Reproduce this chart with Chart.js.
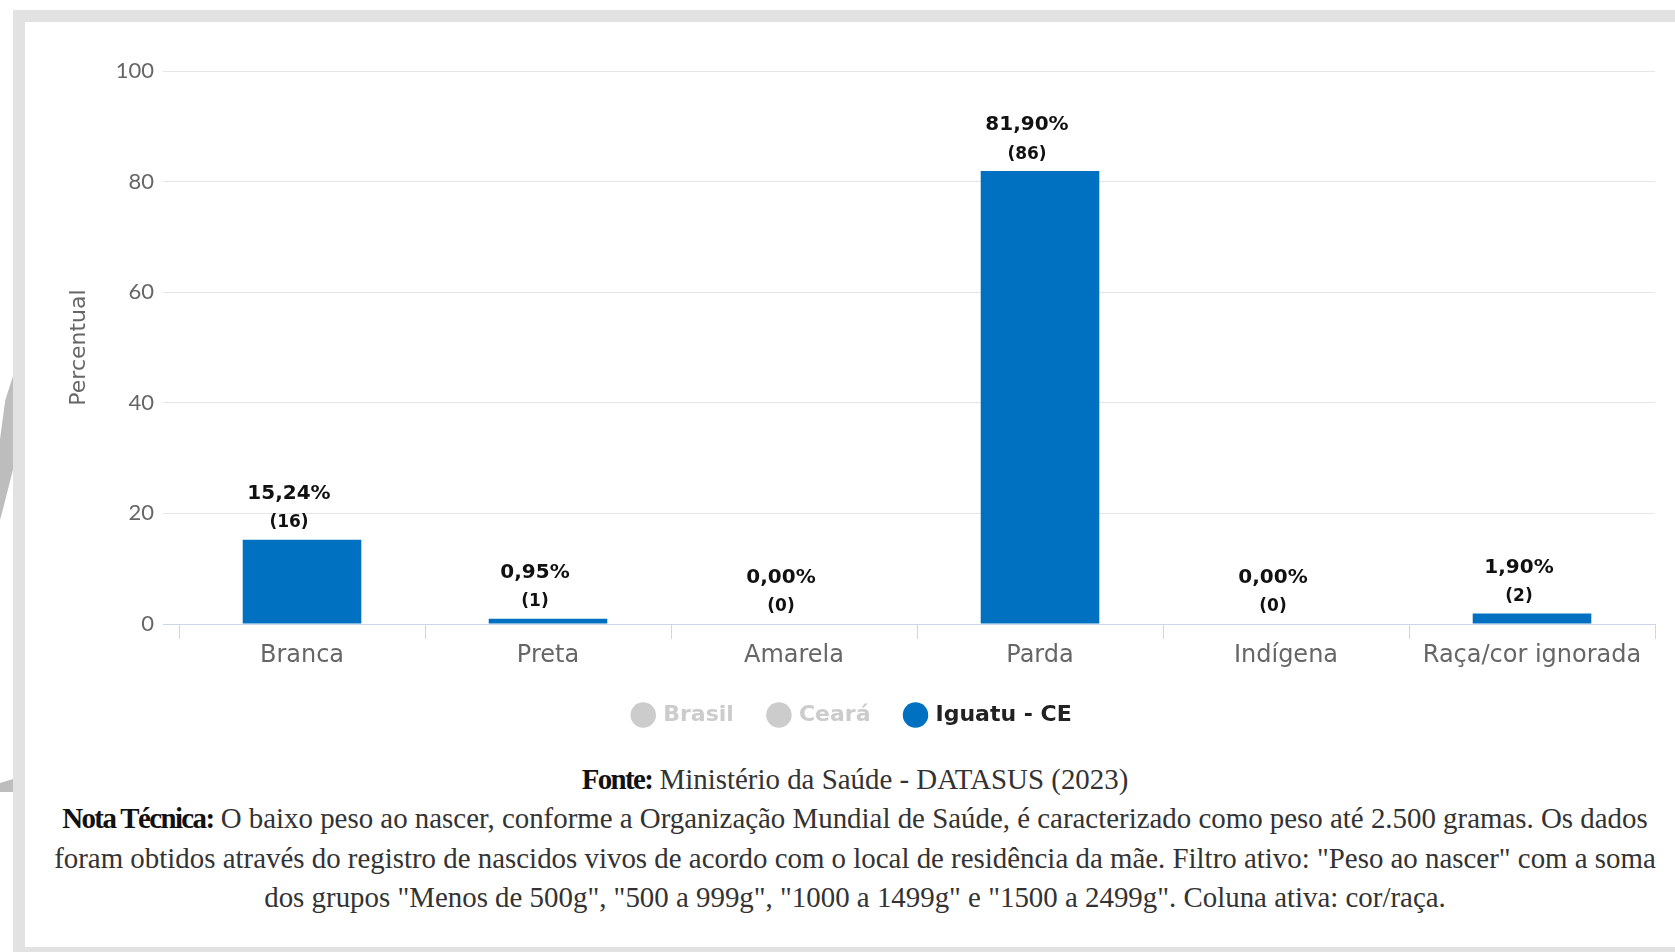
<!DOCTYPE html>
<html>
<head>
<meta charset="utf-8">
<script src="https://cdn.jsdelivr.net/npm/chart.js@4.4.1/dist/chart.umd.min.js"></script>
<style>
  html, body { margin: 0; padding: 0; background: #ffffff; }
  body { width: 1675px; height: 952px; position: relative; overflow: hidden; }
  .band { position: absolute; background: #e2e2e2; }
  #arc1 { position: absolute; left: 0; top: 376px; width: 13px; height: 144px; background: #bdbdbd;
          clip-path: polygon(100% 0%, 100% 65%, 30% 90%, 0% 100%, 0% 44%, 40% 17%); }
  #arc2 { position: absolute; left: 0; top: 779px; width: 13px; height: 13px; background: #bdbdbd;
          clip-path: polygon(0% 30%, 100% 0%, 100% 100%, 0% 100%); }
  #chartWrap { position: absolute; left: 0; top: 0; width: 1675px; height: 736px; }
  #notes { position: absolute; left: 35px; width: 1640px; top: 760px; text-align: center;
           font-family: "Liberation Serif", "DejaVu Serif", serif; font-size: 28.9px; line-height: 39.3px; color: #333; }
  #notes b { color: #111; letter-spacing: -1.6px; }
</style>
</head>
<body>
<div class="band" style="left:13px; top:10px; width:1662px; height:12px;"></div>
<div class="band" style="left:13px; top:10px; width:12px; height:942px;"></div>
<div class="band" style="left:13px; top:947px; width:1662px; height:5px;"></div>
<div id="arc1"></div>
<div id="arc2"></div>
<div id="chartWrap"><canvas id="c" width="1675" height="736"></canvas></div>
<div id="notes">
<b>Fonte:</b> Ministério da Saúde - DATASUS (2023)<br>
<b>Nota Técnica:</b> O baixo peso ao nascer, conforme a Organização Mundial de Saúde, é caracterizado como peso até 2.500 gramas. Os dados<br>
foram obtidos através do registro de nascidos vivos de acordo com o local de residência da mãe. Filtro ativo: "Peso ao nascer" com a soma<br>
dos grupos "Menos de 500g", "500 a 999g", "1000 a 1499g" e "1500 a 2499g". Coluna ativa: cor/raça.
</div>
<script>
// ---- data ----
const categories = ['Branca', 'Preta', 'Amarela', 'Parda', 'Indígena', 'Raça/cor ignorada'];
const percentValues = [15.24, 0.95, 0.00, 81.90, 0.00, 1.90];
const counts = [16, 1, 0, 86, 0, 2];
const seriesNames = ['Brasil', 'Ceará', 'Iguatu - CE'];
const activeSeries = 'Iguatu - CE';
const yAxisTitle = 'Percentual';
const yMin = 0, yMax = 100, yStep = 20;

// ---- styles ----
const BLUE = '#0070C0';
const INACTIVE = '#cccccc';
const FONT_NUM = 'Lato, "Open Sans", sans-serif';
const FONT = '"DejaVu Sans", Lato, sans-serif';

const valueLabels = {
  id: 'valueLabels',
  afterDatasetsDraw(chart) {
    const ctx = chart.ctx;
    const meta = chart.getDatasetMeta(0);
    ctx.save();
    ctx.textAlign = 'center';
    ctx.textBaseline = 'middle';
    ctx.fillStyle = '#111';
    meta.data.forEach((bar, i) => {
      const x = bar.x - 13;
      ctx.font = 'bold 20px ' + FONT;
      ctx.fillText(percentValues[i].toFixed(2).replace('.', ',') + '%', x, bar.y - 46);
      ctx.font = 'bold 17px ' + FONT;
      ctx.fillText('(' + counts[i] + ')', x, bar.y - 17);
    });
    ctx.restore();
  }
};

new Chart(document.getElementById('c'), {
  type: 'bar',
  data: {
    labels: categories,
    datasets: [{
      label: activeSeries,
      data: percentValues,
      backgroundColor: BLUE,
      borderWidth: 0,
      barPercentage: 0.482,
      categoryPercentage: 1.0
    }]
  },
  options: {
    responsive: false,
    animation: false,
    layout: { padding: { left: 51, right: 20, top: 71, bottom: 0 } },
    scales: {
      x: {
        grid: { display: true, drawOnChartArea: false, drawTicks: true, tickLength: 15, color: '#ccd6eb', offset: true },
        border: { display: true, color: '#ccd6eb', width: 1 },
        ticks: { color: '#666666', font: { family: FONT, size: 24 }, padding: 2, maxRotation: 0, autoSkip: false },
        afterFit(scale) { scale.height = 44; }
      },
      y: {
        min: yMin, max: yMax,
        ticks: { stepSize: yStep, color: '#666666', font: { family: FONT_NUM, size: 22 }, padding: 9 },
        grid: {
          color: (c) => (c.tick && c.tick.value === 0) ? '#ccd6eb' : '#e6e6e6',
          tickLength: 16, drawTicks: true, lineWidth: 1
        },
        border: { display: false },
        title: { display: true, text: yAxisTitle, color: '#666666', font: { family: FONT, size: 22 }, padding: { top: 15, bottom: 0 } },
        afterFit(scale) { scale.width = 128; }
      }
    },
    plugins: {
      legend: {
        display: true,
        position: 'bottom',
        onClick: null,
        labels: {
          usePointStyle: true,
          boxWidth: 18, boxHeight: 18,
          padding: 36,
          font: { family: FONT, size: 22, weight: 'bold' },
          generateLabels() {
            return seriesNames.map((name) => {
              const active = name === activeSeries;
              return {
                text: name,
                fillStyle: active ? BLUE : INACTIVE,
                strokeStyle: active ? BLUE : INACTIVE,
                fontColor: active ? '#222222' : INACTIVE,
                lineWidth: 0,
                hidden: false,
                pointStyle: 'circle',
                datasetIndex: 0
              };
            });
          }
        }
      },
      tooltip: { enabled: false }
    }
  },
  plugins: [valueLabels]
});
</script>
</body>
</html>
